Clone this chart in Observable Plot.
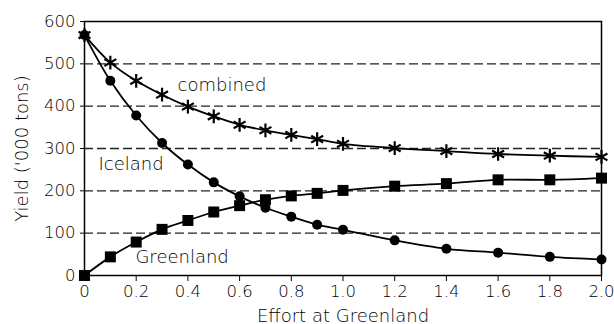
<!DOCTYPE html>
<html>
<head>
<meta charset="utf-8">
<script src="https://cdn.jsdelivr.net/npm/d3@7"></script>
<script src="https://cdn.jsdelivr.net/npm/@observablehq/plot@0.6"></script>
<style>
  html, body { margin: 0; padding: 0; background: #fff; }
  svg { display: block; }
  svg text { font-weight: 200; }
  svg [aria-label="x-axis tick label"], svg [aria-label="y-axis tick label"] { font-size: 16.5px; }
  svg [aria-label="x-axis label"], svg [aria-label="y-axis label"] { font-size: 18px; }
</style>
</head>
<body>
<div id="chart"></div>
<script>
const effort    = [0, 0.1, 0.2, 0.3, 0.4, 0.5, 0.6, 0.7, 0.8, 0.9, 1.0, 1.2, 1.4, 1.6, 1.8, 2.0];
const iceland   = [568, 460, 378, 313, 262, 220, 187, 160, 139, 120, 108, 83, 63, 54, 44, 38];
const greenland = [0, 44, 79, 109, 130, 150, 165, 179, 188, 194, 201, 211, 217, 226, 226, 230];
const combined  = [568, 503, 460, 427, 399, 376, 356, 343, 332, 322, 311, 301, 294, 287, 283, 280];

const xTicks = [0, 0.2, 0.4, 0.6, 0.8, 1.0, 1.2, 1.4, 1.6, 1.8, 2.0];
const yTicks = [0, 100, 200, 300, 400, 500, 600];
const gridValues = [100, 200, 300, 400, 500];

const labelText = ["combined", "Iceland", "Greenland"];
const labelX = [0.36, 0.054, 0.197];
const labelY = [449, 263, 44];

const rows = (ys) => effort.map((x, i) => ({x, y: ys[i]}));
const labels = labelText.map((t, i) => ({t, x: labelX[i], y: labelY[i]}));

const font = "DejaVu Sans, sans-serif";

const chart = Plot.plot({
  width: 614,
  height: 324,
  marginLeft: 84,
  marginRight: 13,
  marginTop: 21,
  marginBottom: 49,
  style: {fontFamily: font, fontSize: "16px", color: "#000", background: "#fff"},
  x: {domain: [0, 2]},
  y: {domain: [0, 600]},
  marks: [
    Plot.ruleY(gridValues, {stroke: "#222", strokeWidth: 1.4, strokeDasharray: "9,4"}),
    Plot.frame({stroke: "#000", strokeWidth: 1.5}),
    Plot.axisX({
      ticks: xTicks, tickSize: 6, tickPadding: 4, tickFormat: d => d === 0 ? "0" : d.toFixed(1),
      label: "Effort at Greenland", labelAnchor: "center", labelOffset: 46, labelArrow: "none"
    }),
    Plot.axisY({
      ticks: yTicks, tickSize: 4, tickPadding: 5,
      label: "Yield ('000 tons)", labelAnchor: "center", labelOffset: 69, labelArrow: "none"
    }),
    Plot.line(rows(combined), {x: "x", y: "y", curve: "catmull-rom", stroke: "#000", strokeWidth: 1.8}),
    Plot.line(rows(iceland), {x: "x", y: "y", curve: "catmull-rom", stroke: "#000", strokeWidth: 1.8}),
    Plot.line(rows(greenland), {x: "x", y: "y", curve: "catmull-rom", stroke: "#000", strokeWidth: 1.8}),
    Plot.dot(rows(combined), {x: "x", y: "y", symbol: "asterisk", r: 6.5, stroke: "#000", strokeWidth: 2.2}),
    Plot.dot(rows(iceland), {x: "x", y: "y", symbol: "circle", r: 5, fill: "#000"}),
    Plot.dot(rows(greenland), {x: "x", y: "y", symbol: "square", r: 6.2, fill: "#000"}),
    Plot.text(labels, {x: "x", y: "y", text: "t", textAnchor: "start", lineAnchor: "middle", fontSize: 18, fill: "#000"})
  ]
});
document.getElementById("chart").appendChild(chart);
</script>
</body>
</html>
